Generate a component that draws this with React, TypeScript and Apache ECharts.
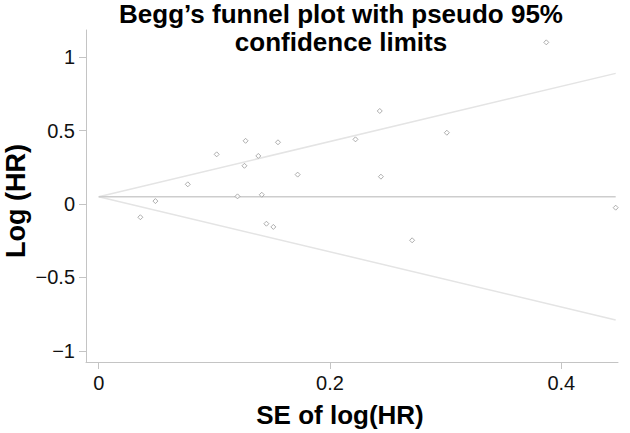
import React, { useEffect, useRef } from "react";
import * as echarts from "echarts";

// Study points: standard error of log(HR) and log(HR)
const seLogHR = [0.036, 0.049, 0.077, 0.102, 0.120, 0.126, 0.127, 0.138, 0.141, 0.145, 0.151, 0.155, 0.172, 0.222, 0.243, 0.244, 0.271, 0.301, 0.387, 0.447];
const logHR = [-0.09, 0.02, 0.134, 0.338, 0.052, 0.26, 0.43, 0.327, 0.063, -0.134, -0.156, 0.42, 0.20, 0.44, 0.633, 0.186, -0.247, 0.485, 1.10, -0.025];

// Pseudo 95% confidence limits
const funnelSE = [0, 0.447];
const upperLimit = [0.05, 0.889];
const lowerLimit = [0.05, -0.789];
const pooledEstimate = [0.05, 0.05];

const xTicks = [0, 0.2, 0.4];
const yTicks = [-1, -0.5, 0, 0.5, 1];

const titleLines = ["Begg\u2019s funnel plot with pseudo 95%", "confidence limits"];
const yAxisTitle = "Log (HR)";
const xAxisTitle = "SE of log(HR)";

const FONT = "'Liberation Sans', Arial, sans-serif";

export default function App() {
  const ref = useRef<HTMLDivElement>(null);
  useEffect(() => {
    if (!ref.current) return;
    const chart = echarts.init(ref.current, undefined, { renderer: "svg" });
    const pts = seLogHR.map((s, i) => [s, logHR[i]]);
    const up = funnelSE.map((s, i) => [s, upperLimit[i]]);
    const lo = funnelSE.map((s, i) => [s, lowerLimit[i]]);
    const mid = funnelSE.map((s, i) => [s, pooledEstimate[i]]);
    const fmt = (v: number) => String(v).replace("-", "\u2212");
    chart.setOption({
      animation: false,
      backgroundColor: "#ffffff",
      textStyle: { fontFamily: FONT },
      grid: { left: 86, right: 12, top: 30, bottom: 71, containLabel: false, outerBoundsMode: "none" },
      graphic: [
        ...titleLines.map((t, i) => ({
          type: "text",
          x: 341,
          y: 1 + i * 27.6,
          style: {
            text: t,
            font: `bold 26px ${FONT}`,
            fill: "#000",
            textAlign: "center",
            textVerticalAlign: "top",
            lineHeight: 26,
          },
        })),
        {
          type: "text",
          x: 16,
          y: 201,
          rotation: Math.PI / 2,
          style: {
            text: yAxisTitle,
            font: `bold 27px ${FONT}`,
            fill: "#000",
            textAlign: "center",
            textVerticalAlign: "middle",
            lineHeight: 27,
          },
        },
      ],
      xAxis: {
        type: "value",
        min: -0.011,
        max: 0.449,
        name: xAxisTitle,
        nameLocation: "middle",
        nameGap: 40,
        nameTextStyle: { fontFamily: FONT, fontWeight: "bold", fontSize: 26, color: "#000", padding: [0, 24, 0, 0] },
        axisLine: { show: true, onZero: false, lineStyle: { color: "#c4c4c4", width: 1 } },
        axisTick: { show: true, length: 7, customValues: xTicks, lineStyle: { color: "#c4c4c4" } },
        axisLabel: { customValues: xTicks, formatter: fmt, fontFamily: FONT, fontSize: 20, color: "#111", margin: 11 },
        splitLine: { show: false },
      },
      yAxis: {
        type: "value",
        min: -1.075,
        max: 1.184,
        axisLine: { show: true, onZero: false, lineStyle: { color: "#c4c4c4", width: 1 } },
        axisTick: { show: true, length: 7, customValues: yTicks, lineStyle: { color: "#c4c4c4" } },
        axisLabel: { customValues: yTicks, formatter: fmt, fontFamily: FONT, fontSize: 20, color: "#111", margin: 11 },
        splitLine: { show: false },
      },
      series: [
        {
          type: "line",
          data: up,
          symbol: "none",
          lineStyle: { color: "#e4e4e4", width: 1.5 },
          z: 1,
        },
        {
          type: "line",
          data: lo,
          symbol: "none",
          lineStyle: { color: "#e4e4e4", width: 1.5 },
          z: 1,
        },
        {
          type: "line",
          data: mid,
          symbol: "none",
          lineStyle: { color: "#cdcdcd", width: 1.5 },
          z: 1,
        },
        {
          type: "scatter",
          data: pts,
          symbol: "diamond",
          symbolSize: 5,
          itemStyle: { color: "#ffffff", borderColor: "#9a9a9a", borderWidth: 1 },
          z: 3,
        },
      ],
    });
    return () => chart.dispose();
  }, []);
  return <div ref={ref} style={{ width: 630, height: 433, position: "absolute", left: 0, top: 0 }} />;
}
